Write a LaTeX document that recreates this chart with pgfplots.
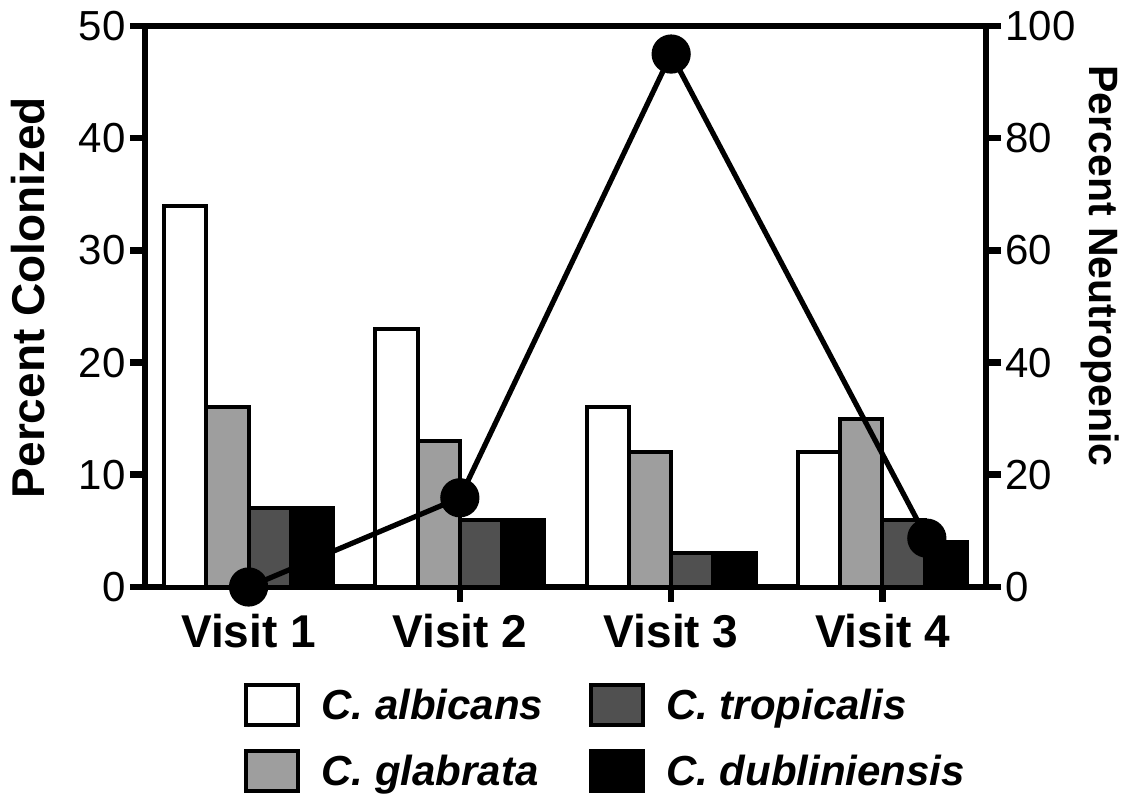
\documentclass[border=0pt]{standalone}
\usepackage{fontspec}
\setmainfont{Liberation Sans}
\usepackage{pgfplots}
\pgfplotsset{compat=1.18}
\definecolor{lgray}{RGB}{158,158,158}
\definecolor{dgray}{RGB}{80,80,80}

\pgfplotstableread{
x  alb  gla  tro  dub
0  34   16   7    7
1  23   13   6    6
2  16   12   3    3
3  12   15   6    4
}\bars

\begin{document}
\begin{tikzpicture}
\begin{axis}[
  name=ax,
  scale only axis, width=420.5pt, height=280.5pt,
  xmin=-0.49, xmax=3.49, ymin=0, ymax=50,
  axis line style={line width=3.3pt},
  tick align=outside,
  major tick length=7.5pt,
  every tick/.style={line width=3.3pt, black},
  xtick={0,1,2,3},
  xticklabels={Visit 1,Visit 2,Visit 3,Visit 4},
  xtick pos=bottom, ytick pos=left,
  ytick={0,10,20,30,40,50},
  /pgf/number format/assume math mode=true,
  yticklabel style={font=\fontsize{21}{24}\selectfont, inner sep=2pt},
  xticklabel style={font=\fontsize{23}{26}\selectfont\bfseries, inner sep=2pt, yshift=-4pt},
  ylabel={Percent Colonized},
  every axis y label/.style={at={(axis description cs:-0.1385,0.516)}, rotate=90, anchor=center, font=\fontsize{23}{26}\selectfont\bfseries},
  legend style={at={(axis description cs:0.549,-0.171)}, anchor=north, draw=none, fill=none, inner sep=0pt,
    font=\fontsize{21}{24}\selectfont\bfseries\itshape,
    /tikz/every odd column/.append style={column sep=8.5pt},
    /tikz/every even column/.append style={column sep=21pt},
    row sep=11pt},
  legend columns=2,
  transpose legend,
  legend cell align=left,
  legend image code/.code={\draw[#1, line width=2pt] (0pt,-10pt) rectangle (26pt,10pt);},
  clip=false,
]
\addplot[ybar, bar width=0.2, bar shift=-0.3, draw=black, line width=2pt, fill=white] table[x=x,y=alb]{\bars};
\addplot[ybar, bar width=0.2, bar shift=-0.1, draw=black, line width=2pt, fill=lgray] table[x=x,y=gla]{\bars};
\addplot[ybar, bar width=0.2, bar shift=0.1, draw=black, line width=2pt, fill=dgray] table[x=x,y=tro]{\bars};
\addplot[ybar, bar width=0.2, bar shift=0.3, draw=black, line width=2pt, fill=black] table[x=x,y=dub]{\bars};
\legend{C. albicans, C. glabrata, C. tropicalis, C. dubliniensis}
\end{axis}
\begin{axis}[
  scale only axis, width=420.5pt, height=280.5pt,
  xmin=-0.49, xmax=3.49, ymin=0, ymax=100,
  axis x line=none,
  axis y line*=right,
  axis line style={line width=3.3pt},
  tick align=outside,
  major tick length=7.5pt,
  every tick/.style={line width=3.3pt, black},
  ytick={0,20,40,60,80,100},
  /pgf/number format/assume math mode=true,
  yticklabel style={font=\fontsize{21}{24}\selectfont, inner sep=2pt},
  ylabel={Percent Neutropenic},
  every axis y label/.style={at={(axis description cs:1.1356,0.572)}, rotate=-90, anchor=center, font=\fontsize{20.5}{24}\selectfont\bfseries},
  clip=false,
]
\addplot[black, line width=2.6pt, mark=*, mark size=8.5pt, mark options={solid, fill=black}] coordinates {
(0,0) (1,15.9) (2,95.0) (3.21,8.7)
};
\end{axis}
\path ([xshift=-72.5pt,yshift=-104.5pt]ax.south west) rectangle ([xshift=72.5pt,yshift=13pt]ax.north east);
\end{tikzpicture}
\end{document}
